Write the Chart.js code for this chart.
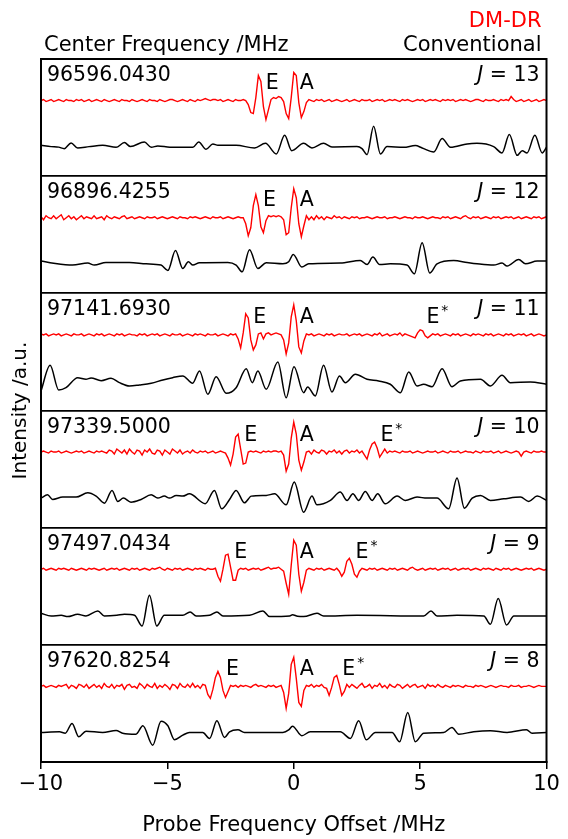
<!DOCTYPE html>
<html>
<head>
<meta charset="utf-8">
<script src="https://cdn.jsdelivr.net/npm/chart.js@4.4.0/dist/chart.umd.min.js"></script>
<style>
  html, body { margin: 0; padding: 0; background: #fff; }
  #wrap { width: 568px; height: 839px; }
</style>
</head>
<body>
<div id="wrap"><canvas id="spectra" width="568" height="839"></canvas></div>
<script>
// panel labels, top to bottom
const centerFreqs = ['96596.0430', '96896.4255', '97141.6930', '97339.5000', '97497.0434', '97620.8254'];
const jValues = [13, 12, 11, 10, 9, 8];
// line centres (MHz offset) used to anchor the E / A / E* labels
const ePeaks = [-1.38, -1.49, -1.88, -2.24, -2.63, -2.96];
const aPeaks = [0, 0, 0, 0, 0, 0];
const eStarPeaks = [null, null, 5.01, 3.19, 2.21, 1.68];

// DM-DR traces, sampled every 0.1 MHz from -10 to 10 (201 points)
const drJ13 = [
  0,1,-1,0,1,-1,0,1,0,-1,1,0,0,-1,1,0,1,-1,0,1,
  -1,0,1,0,-1,1,0,-1,0,1,0,-1,1,0,0,-1,1,0,-1,0,
  1,0,-1,1,0,0,-1,1,0,-1,0,1,1,0,-1,0,1,0,-1,1,
  0,-1,1,0,1,2,1,0,1,1,0,1,-1,0,1,0,-1,1,0,0,
  1,0,-4,-12,-13,3,25,19,-6,-19,-9,1,3,2,4,3,-1,-13,-18,3,
  28,25,-2,-17,-11,-2,1,0,-1,1,0,1,-1,0,1,-1,0,1,0,-1,
  0,1,-1,0,1,0,-1,1,0,0,1,-1,0,1,0,1,-1,0,1,0,
  1,0,-1,1,0,1,0,-1,0,1,0,1,-1,0,1,0,1,0,-1,1,
  0,1,0,1,-1,0,1,0,1,0,-1,0,1,1,0,-1,1,0,0,1,
  0,-1,1,0,1,0,4,1,-1,0,1,-1,0,1,-1,0,1,-1,0,1,
  0
];
const drJ12 = [
  1,-2,2,0,-1,2,-1,1,3,-2,0,2,-1,1,-2,0,2,-1,1,0,
  -1,2,-1,0,1,-2,2,0,-1,1,0,-1,1,2,-1,0,1,-1,0,1,
  0,-1,1,0,0,1,-1,0,1,0,-1,0,1,0,-1,1,0,0,-1,1,
  0,1,0,-1,0,1,0,-1,1,0,0,1,-1,0,1,0,-1,0,1,0,
  0,-6,-18,-10,12,23,12,-9,-15,-3,2,1,2,1,2,1,-2,-17,-15,10,
  29,20,-6,-19,-8,2,-2,1,-2,2,-1,1,-2,1,0,-1,2,0,1,-1,
  1,0,-1,1,0,1,-1,0,0,1,0,-1,0,1,0,0,1,-1,0,0,
  1,0,-1,0,1,0,0,-1,1,0,0,1,0,-1,0,1,0,0,-1,1,
  0,1,-1,0,1,0,-1,1,2,0,-1,1,0,1,-1,0,1,0,-1,1,
  0,1,-1,0,1,0,1,-1,0,1,-1,0,1,0,-1,1,0,1,-1,0,
  1
];
const drJ11 = [
  1,0,1,-1,0,1,0,1,-1,0,1,0,-1,1,0,0,1,-1,0,1,
  0,-1,1,0,1,-1,0,1,0,-1,1,0,1,-1,0,1,0,0,-1,1,
  0,1,-1,0,1,0,1,-1,0,1,0,-1,1,0,0,1,-1,0,1,0,
  -1,1,0,1,0,-1,1,0,0,1,-1,0,1,0,-1,1,0,1,-4,-13,
  2,21,17,-5,-15,-10,1,2,-4,1,2,0,1,2,1,0,-5,-19,-8,18,
  30,14,-12,-18,-6,1,0,1,-1,0,1,0,-1,1,0,1,-1,0,1,0,
  0,1,-1,0,1,0,1,-1,0,1,0,-1,1,0,2,-1,0,1,-1,0,
  1,0,2,-1,1,0,-1,-2,-3,2,5,4,-1,-3,-1,1,0,1,-1,0,
  1,0,-1,1,0,1,-1,0,1,0,-1,1,0,1,0,-1,1,0,1,-1,
  0,1,0,-1,1,0,1,-1,0,1,0,1,-1,0,1,-1,0,1,0,-1,
  0
];
const drJ10 = [
  0,1,0,-1,1,0,0,1,-1,0,1,0,-1,0,1,0,1,-1,0,1,
  0,-1,1,0,1,0,-1,2,1,-2,3,1,-1,2,-2,3,0,-2,2,1,
  -3,2,0,3,-1,-2,2,1,-3,2,0,-2,3,1,-1,2,-2,0,1,-1,
  2,0,-1,1,0,1,-1,0,1,-1,0,1,0,-1,-6,-13,-2,15,18,3,
  -12,-11,0,1,0,1,0,-1,1,0,1,0,1,1,0,1,-3,-19,-12,14,
  30,18,-8,-18,-10,0,1,-2,2,0,-1,2,1,-2,1,0,2,-1,1,-2,
  1,2,-1,1,0,2,-1,1,-3,-7,2,8,10,4,-5,-1,3,-1,1,0,
  1,0,-1,1,0,0,1,-1,0,1,0,-1,0,1,0,0,1,-1,0,1,
  0,-1,1,0,0,1,-1,0,1,0,0,-1,1,0,-1,1,0,0,1,-1,
  0,1,-1,0,1,0,-1,0,1,0,-4,0,1,0,-1,1,0,0,1,0,
  0
];
const drJ9 = [
  0,1,-1,0,1,0,-1,1,0,1,0,-1,1,0,-1,0,1,0,-1,1,
  0,1,0,-1,0,1,-1,0,1,0,1,-1,0,1,0,-1,1,0,1,-1,
  0,1,0,-1,1,0,1,2,0,-1,1,0,-1,1,0,1,-1,0,1,0,
  -1,1,0,1,0,-1,1,0,0,1,-7,-12,0,14,15,2,-11,-11,-1,1,
  0,1,-1,0,1,0,1,-1,0,1,2,0,1,1,2,0,-2,-14,-25,4,
  29,24,-5,-22,-13,-1,1,0,-1,1,0,1,-1,0,1,0,-1,1,-2,-7,
  -3,8,11,5,-5,-8,-2,1,0,-1,1,0,1,-1,0,1,0,-1,1,0,
  1,-1,0,1,0,-1,1,2,0,-1,0,1,-1,0,1,0,1,-1,0,1,
  0,1,-1,0,1,-1,0,1,0,1,-1,0,1,0,-1,1,0,1,0,-1,
  1,0,-1,1,0,1,-1,0,1,0,-1,0,1,0,1,-1,0,1,0,-1,
  0
];
const drJ8 = [
  0,1,-1,0,1,0,-1,1,0,1,2,-2,1,0,-2,2,1,-1,2,-2,
  0,2,-1,1,-2,3,0,-1,2,-2,1,0,2,-3,1,2,-1,0,-2,3,
  1,-2,2,0,-1,3,-2,1,-1,2,0,-3,2,1,-2,3,0,-1,2,-1,
  3,-1,1,-2,2,1,-8,-12,-3,9,15,9,-4,-11,-5,1,0,1,-1,1,
  0,1,0,-1,1,2,0,1,0,-1,1,0,1,-1,0,1,-6,-22,-7,22,
  29,8,-16,-20,-4,1,0,2,-1,1,0,2,-1,-2,-9,-1,9,11,2,-9,
  -5,2,-1,2,0,-2,1,3,-1,0,2,-2,1,0,3,-1,1,-2,2,0,
  -1,2,1,-2,0,2,-1,1,2,-1,0,1,-2,2,0,1,-1,2,0,-1,
  1,0,-1,1,0,1,0,-1,1,0,0,-1,1,0,1,0,-1,0,1,0,
  -1,0,1,0,0,-1,1,0,0,1,-1,0,0,1,0,-1,0,1,0,0,
  0
];

// conventional traces, read at turning points: [MHz offset, intensity]
const convJ13 = [[-10,1.3],[-9.6,0],[-9.3,-0.5],[-9.08,-2],[-8.81,3.7],[-8.55,-1.3],[-8.1,0],[-7.56,1.3],[-7.03,-0.7],[-6.7,4],[-6.46,0],[-5.91,4.7],[-5.64,-0.7],[-5.38,0.7],[-4.9,-0.5],[-3.99,-0.7],[-3.76,4.7],[-3.47,-2.7],[-3.2,2.7],[-3.0,1.3],[-2.28,1.3],[-1.55,-1.3],[-1.12,3.3],[-0.69,-7.3],[-0.36,11.3],[-0.08,-4],[0.39,3.3],[0.72,-1.3],[1.18,3.3],[1.51,-0.3],[2.5,0],[2.7,-2],[2.9,-8],[3.16,20.3],[3.43,-7.3],[3.69,0],[4.35,-0.7],[4.81,1],[5.08,-1.3],[5.54,-5.3],[5.87,8],[6.2,-0.7],[6.86,2.7],[7.25,3.3],[7.91,0],[8.24,-6.3],[8.53,12],[8.84,-8.7],[9.04,-4],[9.23,-6.3],[9.54,11.3],[9.83,-6.3],[10,-0.7]];
const convJ12 = [[-10,2.7],[-9.5,0.5],[-8.75,-1.3],[-8.15,0.7],[-7.89,-1.3],[-7.43,1.3],[-6.5,1.3],[-5.84,0],[-5.25,-1.3],[-4.98,-6.7],[-4.68,13.3],[-4.39,-4.7],[-4.17,2],[-3.99,-1.3],[-3.73,1],[-2.61,1.3],[-2.28,-1.3],[-2.04,-8],[-1.75,14],[-1.42,-4.7],[-1.09,1],[-0.43,0],[-0.2,2],[-0.02,9.3],[0.32,-3.3],[0.59,0],[1.84,0.7],[2.63,3.3],[2.9,-0.7],[3.13,6.7],[3.4,-0.7],[3.82,0],[4.48,-1.3],[4.77,-10],[5.08,21],[5.38,-9.3],[5.67,0],[6.33,3.3],[6.86,1.3],[7.25,0],[7.91,-1.3],[8.24,0.7],[8.44,-2.3],[8.9,4.3],[9.17,0],[9.63,2.7],[10,2.7]];
const convJ11 = [[-10,-10],[-9.64,15.7],[-9.3,-9],[-9.01,-6.7],[-8.55,3.3],[-8.22,1.7],[-8.02,3],[-7.62,0.3],[-7.23,2.7],[-6.9,-1.7],[-6.5,-5],[-6.11,-4],[-5.64,-2.3],[-5.18,1],[-4.79,3.3],[-4.39,5],[-4.0,-2.3],[-3.73,10],[-3.4,-13.3],[-3.07,4.3],[-2.67,-12.3],[-2.28,-6.7],[-1.88,12.3],[-1.64,-1.7],[-1.42,10],[-1.09,-8.3],[-0.63,19],[-0.3,-16.7],[0.01,14.3],[0.39,-11.7],[0.55,-6],[0.85,-15],[1.18,15.7],[1.51,-11],[1.81,5],[2.04,-1.7],[2.44,6.7],[2.9,1.7],[3.36,0],[3.82,-3.3],[4.22,-11.7],[4.55,9],[4.88,-5],[5.14,-3.3],[5.47,-5.7],[5.87,12.3],[6.26,-5.7],[6.59,0],[7.39,1.7],[7.78,-5],[8.24,5.7],[8.57,-1.7],[9.36,-1],[10,-3.3]];
const convJ10 = [[-10,0],[-9.74,3.3],[-9.54,-1.3],[-9.14,1],[-8.61,1],[-8.15,5.3],[-7.82,2],[-7.49,-5],[-7.19,7.7],[-6.96,-3.3],[-6.74,0],[-6.44,-4],[-6.04,-1.3],[-5.64,3.3],[-5.38,0],[-5.12,2],[-4.92,0],[-4.65,2.7],[-4.39,2],[-4.13,4.3],[-3.5,-5.5],[-3.14,7.7],[-2.85,-10.7],[-2.54,-1.3],[-2.28,7.7],[-1.95,-4.7],[-1.68,2],[-1.09,2.7],[-0.76,4.3],[-0.3,-6.7],[0.02,16],[0.39,-14],[0.72,2],[0.92,-6.7],[1.45,-2.3],[1.84,6],[2.11,-2.3],[2.34,4.3],[2.57,-2.3],[2.83,6.7],[3.1,-2.3],[3.32,4.3],[3.62,-5.7],[4.09,2],[4.41,-2.3],[4.88,1],[5.27,0],[5.67,0],[6.13,-10.7],[6.46,20],[6.75,-10],[7.06,0],[7.39,2.7],[7.78,-2.3],[8.31,-0.7],[8.97,1],[9.3,-3.3],[9.63,2],[10,-2.3]];
const convJ9 = [[-10,2],[-9.6,-0.7],[-9.2,0],[-8.94,-1.3],[-8.55,1],[-8.22,-0.7],[-7.75,4.3],[-7.49,-0.7],[-7.0,0],[-6.7,1],[-6.3,0],[-6.0,-10.7],[-5.71,20],[-5.42,-10.7],[-5.12,0],[-4.39,0],[-4.1,3.3],[-3.86,-0.7],[-3.33,0],[-3.04,3.3],[-2.8,-0.7],[-1.75,0],[-1.22,4.3],[-0.96,-1.3],[-0.16,-0.7],[-0.05,0.5],[0.15,-1],[0.39,-1.3],[0.92,2],[1.18,-0.7],[2.5,0],[5.14,-0.7],[5.43,4.3],[5.67,-0.7],[6.46,0],[7.52,-0.7],[7.78,-9],[8.09,16.7],[8.42,-9.7],[8.71,-0.7],[10,-0.7]];
const convJ8 = [[-10,0],[-9.27,0.7],[-9.04,-0.7],[-8.77,9],[-8.51,-4.3],[-8.22,1.3],[-7.56,0],[-7.03,2],[-6.77,-0.7],[-6.24,-1.7],[-5.97,6.7],[-5.58,-12.7],[-5.25,11.3],[-4.98,6.7],[-4.72,-7.3],[-4.39,-2.7],[-4.13,0],[-3.6,0],[-3.33,-6],[-3.04,11.7],[-2.74,-5],[-2.54,0.7],[-2.21,2.7],[-1.95,0],[-0.43,0],[-0.2,2.5],[-0.05,6.3],[0.32,-3.3],[0.65,0.7],[1.84,0.7],[2.24,-6],[2.57,11.7],[2.87,-7.3],[3.23,0],[3.89,0],[4.19,-9.3],[4.51,20],[4.81,-9.3],[5.14,-0.7],[5.93,0],[6.26,5],[6.53,-1.7],[7.12,0.7],[7.78,1.7],[8.44,0],[9.21,2.7],[9.43,-0.7],[10,0]];

const drTraces = [drJ13, drJ12, drJ11, drJ10, drJ9, drJ8];
const convTraces = [convJ13, convJ12, convJ11, convJ10, convJ9, convJ8];

// layout of the stacked panels (in y-axis units)
const PANEL_H = 117;
const DR_BASE = 75.5;   // red baseline above the panel bottom
const CONV_BASE = 29.5; // black baseline above the panel bottom
const FONT = '"DejaVu Sans", sans-serif';

const xGrid = Array.from({ length: 201 }, (_, i) => -10 + i / 10);

const datasets = [];
drTraces.forEach((trace, k) => {
    const base = (5 - k) * PANEL_H;
    datasets.push({
        data: trace.map((v, i) => ({ x: xGrid[i], y: base + DR_BASE + v })),
        borderColor: '#ff0000',
        borderWidth: 1.4,
        pointRadius: 0,
        tension: 0
    });
    datasets.push({
        data: convTraces[k].map(p => ({ x: p[0], y: base + CONV_BASE + p[1] })),
        borderColor: '#000000',
        borderWidth: 1.5,
        pointRadius: 0,
        cubicInterpolationMode: 'monotone'
    });
});

const labelPlugin = {
    id: 'panelLabels',
    afterDraw(chart) {
        const { ctx, chartArea: a, scales: { x, y } } = chart;
        ctx.save();

        // frame
        ctx.strokeStyle = '#000';
        ctx.lineWidth = 2;
        ctx.strokeRect(a.left, a.top, a.right - a.left, a.bottom - a.top);

        // header
        ctx.font = '21px ' + FONT;
        ctx.textBaseline = 'alphabetic';
        ctx.fillStyle = '#000';
        ctx.textAlign = 'left';
        ctx.fillText('Center Frequency /MHz', a.left + 3, 51);
        ctx.textAlign = 'right';
        ctx.fillText('Conventional', a.right - 5, 51);
        ctx.fillStyle = '#ff0000';
        ctx.fillText('DM-DR', a.right - 5, 27);

        ctx.textAlign = 'left';
        for (let k = 0; k < 6; k++) {
            const top = y.getPixelForValue((6 - k) * PANEL_H);
            ctx.fillStyle = '#000';
            ctx.font = '20.5px ' + FONT;
            ctx.fillText(centerFreqs[k], a.left + 6, top + 22);

            // J = n, with italic J
            const rest = ' = ' + jValues[k];
            const wRest = ctx.measureText(rest).width;
            ctx.font = 'italic 20.5px ' + FONT;
            const wJ = ctx.measureText('J').width;
            const jx = a.right - 7 - wRest - wJ;
            ctx.fillText('J', jx, top + 22);
            ctx.font = '20.5px ' + FONT;
            ctx.fillText(rest, jx + wJ, top + 22);

            // line labels
            ctx.fillText('E', x.getPixelForValue(ePeaks[k]) + 7, top + 30);
            ctx.fillText('A', x.getPixelForValue(aPeaks[k]) + 6, top + 30);
            if (eStarPeaks[k] !== null) {
                const ex = x.getPixelForValue(eStarPeaks[k]) + 6;
                ctx.fillText('E', ex, top + 30);
                const wE = ctx.measureText('E').width;
                ctx.font = '14px ' + FONT;
                ctx.fillText('*', ex + wE + 2, top + 22);
            }
        }
        ctx.restore();
    }
};

new Chart(document.getElementById('spectra').getContext('2d'), {
    type: 'line',
    data: { datasets },
    options: {
        responsive: false,
        animation: false,
        devicePixelRatio: 1,
        layout: { padding: { top: 59, right: 21.5, bottom: 0, left: 0 } },
        plugins: { legend: { display: false }, tooltip: { enabled: false } },
        scales: {
            x: {
                type: 'linear',
                min: -10,
                max: 10,
                ticks: {
                    stepSize: 5,
                    color: '#000',
                    padding: 3,
                    font: { family: FONT, size: 21 },
                    callback: v => (v < 0 ? '\u2212' + Math.abs(v) : String(v))
                },
                grid: { drawOnChartArea: false, drawTicks: true, tickLength: 7, color: '#000', lineWidth: 1.5 },
                border: { display: true, color: '#000', width: 2 },
                title: { display: true, text: 'Probe Frequency Offset /MHz', color: '#000', font: { family: FONT, size: 21 }, padding: { top: 0, bottom: 1 } },
                afterFit: s => { s.height = 77; }
            },
            y: {
                min: 0,
                max: 6 * PANEL_H,
                ticks: { stepSize: PANEL_H, display: false },
                grid: { color: '#000', lineWidth: 1.8, drawTicks: false },
                border: { display: true, color: '#000', width: 2 },
                title: { display: true, text: 'Intensity /a.u.', color: '#000', font: { family: FONT, size: 20 }, padding: { top: 9, bottom: 0 } },
                afterFit: s => { s.width = 41; }
            }
        }
    },
    plugins: [labelPlugin]
});
</script>
</body>
</html>
